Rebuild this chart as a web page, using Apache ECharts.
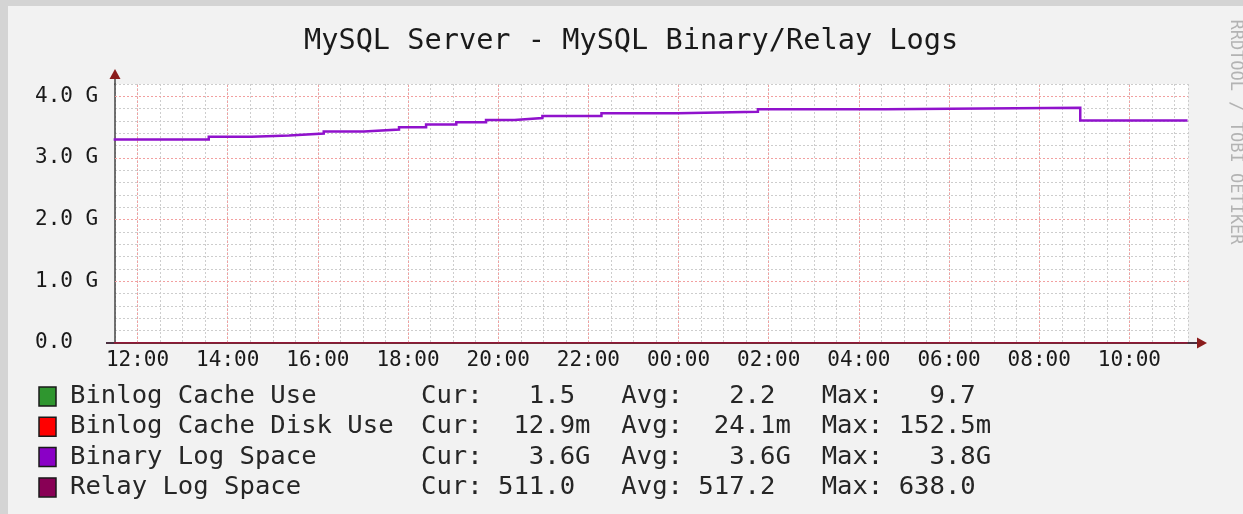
<!DOCTYPE html>
<html>
<head>
<meta charset="utf-8">
<title>MySQL Server - MySQL Binary/Relay Logs</title>
<script src="https://cdn.jsdelivr.net/npm/echarts@6/dist/echarts.min.js"></script>
<style>
  html, body { margin: 0; padding: 0; background: #f2f2f2; }
  #main { width: 1243px; height: 514px; }
</style>
</head>
<body>
<div id="main"></div>
<script>
// hours after 12:00 of the first day, where each step of the series begins
const stepHours = [-0.53, 1.58, 2.53, 3.36, 4.13, 5.02, 5.8, 6.4, 7.07, 7.73, 8.36, 8.98, 10.29, 11.98, 13.76, 16.58, 20.91, 23.29];
// Binary Log Space in G (bytes / 1e9)
const binaryLogSpaceG = [3.30, 3.345, 3.366, 3.398, 3.431, 3.463, 3.50, 3.545, 3.58, 3.615, 3.647, 3.68, 3.724, 3.75, 3.79, 3.816, 3.61, 3.61];

// the small series sit on the zero line
const smallTimes = [-0.53, 23.29];
const binlogCacheUse = [2.2, 1.5];
const binlogCacheDiskUse = [0.024, 0.0129];
const relayLogSpace = [517.2, 511.0];

// legend block
const legendNames = ['Binlog Cache Use', 'Binlog Cache Disk Use', 'Binary Log Space', 'Relay Log Space'];
const legendColors = ['#2f962f', '#ff0000', '#8a00c6', '#880055'];
const curValues = ['1.5', '12.9', '3.6', '511.0'];
const avgValues = ['2.2', '24.1', '3.6', '517.2'];
const maxValues = ['9.7', '152.5', '3.8', '638.0'];
const curUnits = [' ', 'm', 'G', ' '];
const avgUnits = [' ', 'm', 'G', ' '];
const maxUnits = [' ', 'm', 'G', ' '];

const MONO = '"DejaVu Sans Mono", monospace';

function toPairs(xs, ys, scale) {
  return xs.map((x, i) => [x, ys[i] * scale]);
}

// major (red) grid lines, drawn over the gray minor ones
const majorMarks = [];
for (let h = 0; h <= 22; h += 2) majorMarks.push({ xAxis: h });
for (let g = 1; g <= 4; g++) majorMarks.push({ yAxis: g * 1e9 });

// legend graphics
const legendGraphics = [];
legendNames.forEach((name, i) => {
  const cy = 396.5 + i * 30.3;
  legendGraphics.push({
    type: 'rect', shape: { x: 39, y: cy - 9.5, width: 17, height: 19 },
    style: { fill: legendColors[i], stroke: '#1a1a1a', lineWidth: 1.5 }
  });
  legendGraphics.push({
    type: 'text', x: 70, y: cy,
    style: { text: name, font: '25.6px ' + MONO, fill: '#262626', textVerticalAlign: 'middle' }
  });
  const stats = 'Cur:' + curValues[i].padStart(6) + curUnits[i] + '  ' +
                'Avg:' + avgValues[i].padStart(6) + avgUnits[i] + '  ' +
                'Max:' + maxValues[i].padStart(6) + maxUnits[i];
  legendGraphics.push({
    type: 'text', x: 421, y: cy,
    style: { text: stats, font: '25.6px ' + MONO, fill: '#262626', textVerticalAlign: 'middle' }
  });
});

const chart = echarts.init(document.getElementById('main'));

chart.setOption({
  backgroundColor: '#f2f2f2',
  animation: false,
  title: {
    text: 'MySQL Server - MySQL Binary/Relay Logs',
    left: 299,
    top: 22,
    textStyle: { fontFamily: MONO, fontSize: 28.6, fontWeight: 'normal', color: '#1a1a1a' }
  },
  grid: {
    left: 115, right: 55, top: 84, bottom: 171,
    show: true, backgroundColor: '#ffffff', borderWidth: 0
  },
  xAxis: {
    type: 'value',
    min: -0.5,
    max: 23.3,
    interval: 0.5,
    axisLine: { show: true, onZero: false, lineStyle: { color: '#4a3040', width: 2 } },
    axisTick: { show: false },
    splitLine: { show: true, lineStyle: { color: '#cdcdcd', type: [2, 2], width: 1 } },
    axisLabel: {
      margin: 7,
      fontFamily: MONO, fontSize: 21, color: '#1a1a1a',
      showMinLabel: false, showMaxLabel: false,
      formatter: function (v) {
        if (Math.abs(v - Math.round(v)) > 1e-6 || Math.round(v) % 2 !== 0) return '';
        const h = (12 + Math.round(v)) % 24;
        return (h < 10 ? '0' : '') + h + ':00';
      }
    }
  },
  yAxis: {
    type: 'value',
    min: 0,
    max: 4.2e9,
    interval: 0.2e9,
    axisLine: { show: true, onZero: false, lineStyle: { color: '#444444', width: 1.5 } },
    axisTick: { show: false },
    splitLine: { show: true, lineStyle: { color: '#cdcdcd', type: [2, 2], width: 1 } },
    axisLabel: {
      align: 'left',
      margin: 80,
      fontFamily: MONO, fontSize: 21, color: '#1a1a1a',
      formatter: function (v) {
        const g = v / 1e9;
        if (Math.abs(g - Math.round(g)) > 1e-6) return '';
        return g === 0 ? '0.0' : g.toFixed(1) + ' G';
      }
    }
  },
  series: [
    {
      name: 'Binlog Cache Use', type: 'line', step: 'end', symbol: 'none', z: 2,
      lineStyle: { color: legendColors[0], width: 1 },
      data: toPairs(smallTimes, binlogCacheUse, 1),
      markLine: {
        z: 1, silent: true, symbol: 'none', label: { show: false },
        lineStyle: { color: '#f2a0a0', type: [2, 2], width: 1 },
        data: majorMarks
      }
    },
    {
      name: 'Binlog Cache Disk Use', type: 'line', step: 'end', symbol: 'none', z: 2,
      lineStyle: { color: legendColors[1], width: 1 },
      data: toPairs(smallTimes, binlogCacheDiskUse, 1)
    },
    {
      name: 'Binary Log Space', type: 'line', step: 'end', symbol: 'none', z: 3,
      lineStyle: { color: '#9012cc', width: 2.5, join: 'miter', cap: 'butt' },
      data: toPairs(stepHours, binaryLogSpaceG, 1e9)
    },
    {
      name: 'Relay Log Space', type: 'line', step: 'end', symbol: 'none', z: 3,
      lineStyle: { color: legendColors[3], width: 1 },
      data: toPairs(smallTimes, relayLogSpace, 1)
    }
  ],
  graphic: [
    // gray frame strips
    { type: 'rect', shape: { x: 0, y: 0, width: 1243, height: 6 }, style: { fill: '#d4d4d4' } },
    { type: 'rect', shape: { x: 0, y: 0, width: 8, height: 514 }, style: { fill: '#d4d4d4' } },
    // axis extensions and arrows
    { type: 'line', shape: { x1: 106, y1: 343, x2: 116, y2: 343 }, style: { stroke: '#4a3040', lineWidth: 2 } },
    { type: 'line', shape: { x1: 1187, y1: 343, x2: 1198, y2: 343 }, style: { stroke: '#4a3040', lineWidth: 2 } },
    { type: 'line', shape: { x1: 115, y1: 78, x2: 115, y2: 85 }, style: { stroke: '#444444', lineWidth: 1.5 } },
    { type: 'polygon', shape: { points: [[115, 69], [109.5, 79], [120.5, 79]] }, style: { fill: '#8b1c1c' } },
    { type: 'polygon', shape: { points: [[1207, 343], [1197, 337.5], [1197, 348.5]] }, style: { fill: '#8b1c1c' } },
    // credit text on the right
    {
      type: 'text', x: 1235, y: 132, rotation: -Math.PI / 2,
      style: {
        text: 'RRDTOOL / TOBI OETIKER', font: '17px ' + MONO, fill: '#b3b3b3',
        textAlign: 'center', textVerticalAlign: 'middle'
      }
    }
  ].concat(legendGraphics)
});
</script>
</body>
</html>
